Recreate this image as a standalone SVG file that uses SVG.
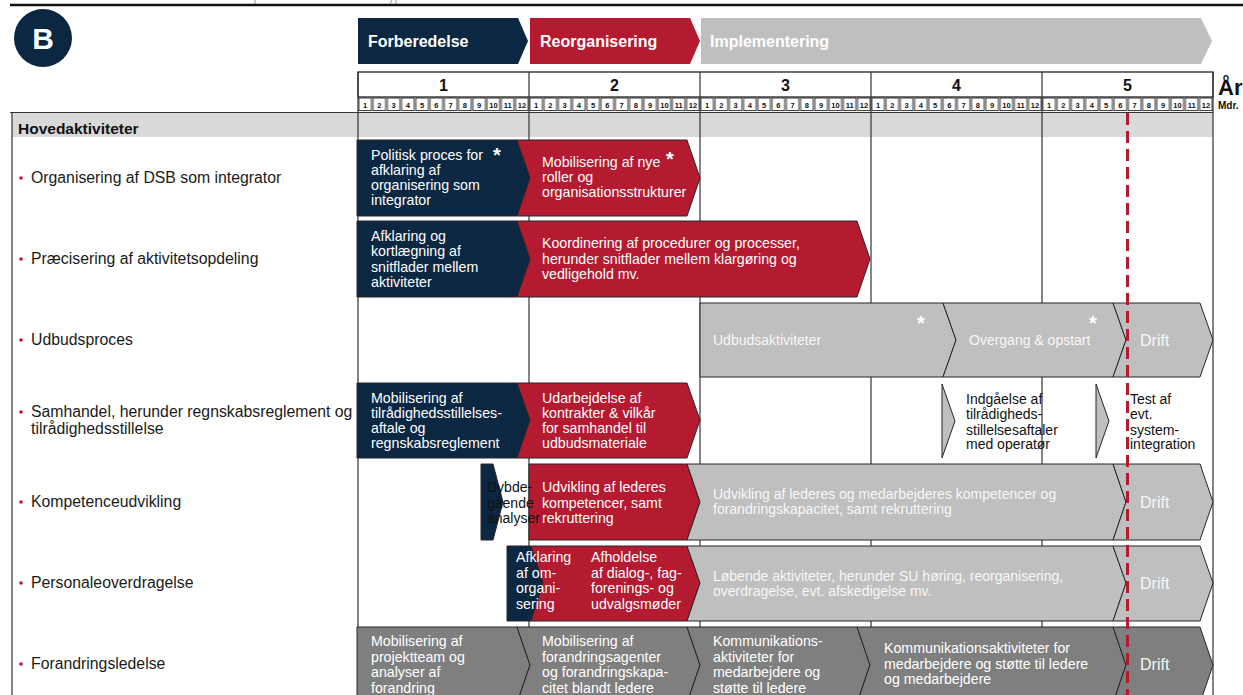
<svg xmlns="http://www.w3.org/2000/svg" xmlns:xlink="http://www.w3.org/1999/xlink" width="1243" height="695" viewBox="0 0 1243 695">
  <style>
    text { font-family: "Liberation Sans", Arial, sans-serif; }
    .hdr { font-size: 16px; font-weight: bold; fill: #ffffff; }
    .yr { font-size: 16px; font-weight: bold; fill: #111; text-anchor: middle; }
    .mo { font-size: 7.5px; font-weight: bold; fill: #111; text-anchor: middle; }
    .lbl { font-size: 15.8px; fill: #1a1a1a; }
    .bt { font-size: 14.2px; fill: #ffffff; }
    .gt { font-size: 14px; fill: #f7f7f7; }
    .kt { font-size: 14px; fill: #111111; }
    .drift { font-size: 16px; fill: #f7f7f7; }
    .star { font-size: 20px; font-weight: bold; fill: #ffffff; }
    .navy { fill: #0c2742; stroke: #262626; stroke-width: 1; }
    .red { fill: #b41a30; stroke: #262626; stroke-width: 1; }
    .lg { fill: #bfbfbf; stroke: #262626; stroke-width: 1; }
    .dg { fill: #7f7f7f; stroke: #262626; stroke-width: 1; }
    .grid { stroke: #333333; stroke-width: 1.2; fill: none; }
    .bullet { fill: #c8102e; }
  </style>
  <defs>
    <pattern id="mcell" patternUnits="userSpaceOnUse" x="358" y="97" width="14.25" height="15">
      <rect x="0.9" y="1" width="12.45" height="12.6" fill="#ffffff" stroke="#222222" stroke-width="0.9"/>
    </pattern>
    <g id="months">
      <text class="mo" x="365.1" y="108">1</text>
      <text class="mo" x="379.4" y="108">2</text>
      <text class="mo" x="393.6" y="108">3</text>
      <text class="mo" x="407.9" y="108">4</text>
      <text class="mo" x="422.1" y="108">5</text>
      <text class="mo" x="436.4" y="108">6</text>
      <text class="mo" x="450.6" y="108">7</text>
      <text class="mo" x="464.9" y="108">8</text>
      <text class="mo" x="479.1" y="108">9</text>
      <text class="mo" x="493.4" y="108">10</text>
      <text class="mo" x="507.6" y="108">11</text>
      <text class="mo" x="521.9" y="108">12</text>
    </g>
  </defs>

  <rect width="1243" height="695" fill="#ffffff"/>

  <!-- page rule and clipped marks above it -->
  <line x1="10" y1="5" x2="1243" y2="5" stroke="#111" stroke-width="2.5"/>
  <line x1="255" y1="0" x2="255" y2="4" stroke="#777" stroke-width="0.8"/>
  <line x1="396" y1="0" x2="396" y2="4" stroke="#777" stroke-width="0.8"/>
  <line x1="390" y1="4" x2="392" y2="0" stroke="#777" stroke-width="0.8"/>

  <!-- section badge -->
  <g id="badge">
    <circle cx="43" cy="38" r="29" fill="#0c2742"/>
    <text x="43" y="49" text-anchor="middle" font-size="30" font-weight="bold" fill="#ffffff">B</text>
  </g>

  <!-- phase arrows -->
  <g id="phase-forberedelse">
    <polygon points="358,18 518,18 528,41 518,64 358,64" fill="#0c2742"/>
    <text class="hdr" x="368" y="47">Forberedelse</text>
  </g>
  <g id="phase-reorganisering">
    <polygon points="530,18 690,18 700,41 690,64 530,64" fill="#b41a30"/>
    <text class="hdr" x="540" y="47">Reorganisering</text>
  </g>
  <g id="phase-implementering">
    <polygon points="701,18 1201,18 1212,41 1201,64 701,64" fill="#bfbfbf"/>
    <text class="hdr" x="710" y="47" fill="#ececec">Implementering</text>
  </g>

  <!-- time scale -->
  <g id="timescale">
    <rect x="358" y="72" width="855" height="25" fill="#ffffff" stroke="#222" stroke-width="1.3"/>
    <rect x="358" y="97" width="855" height="15" fill="url(#mcell)"/>
    <text class="yr" x="443.5" y="91">1</text>
    <text class="yr" x="614.5" y="91">2</text>
    <text class="yr" x="785.5" y="91">3</text>
    <text class="yr" x="956.5" y="91">4</text>
    <text class="yr" x="1127.5" y="91">5</text>
    <use xlink:href="#months"/>
    <use xlink:href="#months" x="171"/>
    <use xlink:href="#months" x="342"/>
    <use xlink:href="#months" x="513"/>
    <use xlink:href="#months" x="684"/>
    <text x="1218" y="95" font-size="22" font-weight="bold" fill="#111">År</text>
    <text x="1218" y="109" font-size="10" font-weight="bold" fill="#111">Mdr.</text>
  </g>

  <!-- table frame, heading band and year grid -->
  <g id="grid">
    <rect x="12" y="113" width="1201" height="24" fill="#d9d9d9"/>
    <line class="grid" x1="10" y1="112.5" x2="1213" y2="112.5"/>
    <line class="grid" x1="12" y1="112" x2="12" y2="695"/>
    <line class="grid" x1="358" y1="72" x2="358" y2="695"/>
    <line class="grid" x1="529" y1="72" x2="529" y2="695"/>
    <line class="grid" x1="700" y1="72" x2="700" y2="695"/>
    <line class="grid" x1="871" y1="72" x2="871" y2="695"/>
    <line class="grid" x1="1042" y1="72" x2="1042" y2="695"/>
    <line class="grid" x1="1213" y1="72" x2="1213" y2="695"/>
    <text x="18" y="134" font-size="15.5" font-weight="bold" fill="#111">Hovedaktiviteter</text>
  </g>

  <!-- row labels -->
  <g id="labels">
    <circle class="bullet" cx="21" cy="178" r="1.8"/>
    <text class="lbl" x="31" y="183">Organisering af DSB som integrator</text>
    <circle class="bullet" cx="21" cy="259" r="1.8"/>
    <text class="lbl" x="31" y="264">Præcisering af aktivitetsopdeling</text>
    <circle class="bullet" cx="21" cy="340" r="1.8"/>
    <text class="lbl" x="31" y="345">Udbudsproces</text>
    <circle class="bullet" cx="21" cy="412" r="1.8"/>
    <text class="lbl" x="31" y="417">Samhandel, herunder regnskabsreglement og</text>
    <text class="lbl" x="31" y="434">tilrådighedsstillelse</text>
    <circle class="bullet" cx="21" cy="502" r="1.8"/>
    <text class="lbl" x="31" y="507">Kompetenceudvikling</text>
    <circle class="bullet" cx="21" cy="583" r="1.8"/>
    <text class="lbl" x="31" y="588">Personaleoverdragelse</text>
    <circle class="bullet" cx="21" cy="664" r="1.8"/>
    <text class="lbl" x="31" y="669">Forandringsledelse</text>
  </g>

  <!-- row 1: organisering -->
  <g id="r1-politisk">
    <polygon class="navy" points="357,140 517,140 530,178 517,216 357,216"/>
    <text class="bt" x="371" y="160">Politisk proces for</text>
    <text class="bt" x="371" y="175">afklaring af</text>
    <text class="bt" x="371" y="190">organisering som</text>
    <text class="bt" x="371" y="205">integrator</text>
    <text class="star" x="497" y="162" text-anchor="middle">*</text>
  </g>
  <g id="r1-mobilisering">
    <polygon class="red" points="517,140 687,140 700,178 687,216 517,216 530,178"/>
    <text class="bt" x="542" y="167">Mobilisering af nye</text>
    <text class="bt" x="542" y="182">roller og</text>
    <text class="bt" x="542" y="197">organisationsstrukturer</text>
    <text class="star" x="670" y="166" text-anchor="middle">*</text>
  </g>

  <!-- row 2: aktivitetsopdeling -->
  <g id="r2-afklaring">
    <polygon class="navy" points="357,221 517,221 530,259 517,297 357,297"/>
    <text class="bt" x="371" y="241">Afklaring og</text>
    <text class="bt" x="371" y="256">kortlægning af</text>
    <text class="bt" x="371" y="272">snitflader mellem</text>
    <text class="bt" x="371" y="287">aktiviteter</text>
  </g>
  <g id="r2-koordinering">
    <polygon class="red" points="517,221 857,221 870,259 857,297 517,297 530,259"/>
    <text class="bt" x="542" y="248">Koordinering af procedurer og processer,</text>
    <text class="bt" x="542" y="264">herunder snitflader mellem klargøring og</text>
    <text class="bt" x="542" y="279">vedligehold mv.</text>
  </g>

  <!-- row 3: udbudsproces -->
  <g id="r3-udbud">
    <polygon class="lg" points="700,303 943,303 956,340 943,377 700,377"/>
    <text class="gt" x="713" y="345">Udbudsaktiviteter</text>
    <text class="star" x="921" y="330" text-anchor="middle">*</text>
  </g>
  <g id="r3-overgang">
    <polygon class="lg" points="943,303 1113,303 1126,340 1113,377 943,377 956,340"/>
    <text class="gt" x="969" y="345">Overgang &amp; opstart</text>
    <text class="star" x="1093" y="330" text-anchor="middle">*</text>
  </g>
  <g id="r3-drift">
    <polygon class="lg" points="1113,303 1200,303 1213,340 1200,377 1113,377 1126,340"/>
    <text class="drift" x="1140" y="346">Drift</text>
  </g>

  <!-- row 4: samhandel -->
  <g id="r4-mobilisering">
    <polygon class="navy" points="357,383 517,383 530,420 517,458 357,458"/>
    <text class="bt" x="371" y="403">Mobilisering af</text>
    <text class="bt" x="371" y="418">tilrådighedsstillelses-</text>
    <text class="bt" x="371" y="433">aftale og</text>
    <text class="bt" x="371" y="448">regnskabsreglement</text>
  </g>
  <g id="r4-udarbejdelse">
    <polygon class="red" points="517,383 687,383 700,420 687,458 517,458 530,420"/>
    <text class="bt" x="542" y="403">Udarbejdelse af</text>
    <text class="bt" x="542" y="418">kontrakter &amp; vilkår</text>
    <text class="bt" x="542" y="433">for samhandel til</text>
    <text class="bt" x="542" y="448">udbudsmateriale</text>
  </g>
  <g id="r4-indgaaelse">
    <polygon class="lg" points="942,384 955,421 942,458"/>
    <text class="kt" x="966" y="404">Indgåelse af</text>
    <text class="kt" x="966" y="419">tilrådigheds-</text>
    <text class="kt" x="966" y="435">stillelsesaftaler</text>
    <text class="kt" x="966" y="449">med operatør</text>
  </g>
  <g id="r4-test">
    <polygon class="lg" points="1096,384 1109,421 1096,458"/>
    <text class="kt" x="1130" y="404">Test af</text>
    <text class="kt" x="1130" y="419">evt.</text>
    <text class="kt" x="1130" y="435">system-</text>
    <text class="kt" x="1130" y="449">integration</text>
  </g>

  <!-- row 5: kompetenceudvikling -->
  <g id="r5-dybde">
    <polygon class="navy" points="481,464 493,464 503,502 493,540 481,540"/>
  </g>
  <g id="r5-ledere">
    <polygon class="red" points="529,464 687,464 700,502 687,540 529,540"/>
    <text class="bt" x="542" y="492">Udvikling af lederes</text>
    <text class="bt" x="542" y="508">kompetencer, samt</text>
    <text class="bt" x="542" y="523">rekruttering</text>
  </g>
  <g id="r5-dybde-text">
    <text class="kt" x="487" y="492">Dybde-</text>
    <text class="kt" x="487" y="508">gående</text>
    <text class="kt" x="487" y="523">analyser</text>
  </g>
  <g id="r5-medarbejdere">
    <polygon class="lg" points="687,464 1113,464 1126,502 1113,540 687,540 700,502"/>
    <text class="gt" x="713" y="499">Udvikling af lederes og medarbejderes kompetencer og</text>
    <text class="gt" x="713" y="514">forandringskapacitet, samt rekruttering</text>
  </g>
  <g id="r5-drift">
    <polygon class="lg" points="1113,464 1200,464 1213,502 1200,540 1113,540 1126,502"/>
    <text class="drift" x="1140" y="508">Drift</text>
  </g>

  <!-- row 6: personaleoverdragelse -->
  <g id="r6-afklaring">
    <polygon class="navy" points="507,546 531,546 543,583 531,621 507,621"/>
  </g>
  <g id="r6-afholdelse">
    <polygon class="red" points="531,546 687,546 700,583 687,621 531,621 543,583"/>
    <text class="bt" x="591" y="562">Afholdelse</text>
    <text class="bt" x="591" y="578">af dialog-, fag-</text>
    <text class="bt" x="591" y="593">forenings- og</text>
    <text class="bt" x="591" y="609">udvalgsmøder</text>
  </g>
  <g id="r6-afklaring-text">
    <text class="bt" x="516" y="562">Afklaring</text>
    <text class="bt" x="516" y="578">af om-</text>
    <text class="bt" x="516" y="593">organi-</text>
    <text class="bt" x="516" y="609">sering</text>
  </g>
  <g id="r6-loebende">
    <polygon class="lg" points="687,546 1113,546 1126,583 1113,621 687,621 700,583"/>
    <text class="gt" x="713" y="581">Løbende aktiviteter, herunder SU høring, reorganisering,</text>
    <text class="gt" x="713" y="596">overdragelse, evt. afskedigelse mv.</text>
  </g>
  <g id="r6-drift">
    <polygon class="lg" points="1113,546 1200,546 1213,583 1200,621 1113,621 1126,583"/>
    <text class="drift" x="1140" y="589">Drift</text>
  </g>

  <!-- row 7: forandringsledelse -->
  <g id="r7-projektteam">
    <polygon class="dg" points="357,627 517,627 530,665 517,703 357,703"/>
    <text class="bt" x="371" y="646">Mobilisering af</text>
    <text class="bt" x="371" y="662">projektteam og</text>
    <text class="bt" x="371" y="677">analyser af</text>
    <text class="bt" x="371" y="693">forandring</text>
  </g>
  <g id="r7-agenter">
    <polygon class="dg" points="517,627 687,627 700,665 687,703 517,703 530,665"/>
    <text class="bt" x="542" y="646">Mobilisering af</text>
    <text class="bt" x="542" y="662">forandringsagenter</text>
    <text class="bt" x="542" y="677">og forandringskapa-</text>
    <text class="bt" x="542" y="693">citet blandt ledere</text>
  </g>
  <g id="r7-kommunikation">
    <polygon class="dg" points="687,627 857,627 870,665 857,703 687,703 700,665"/>
    <text class="bt" x="713" y="646">Kommunikations-</text>
    <text class="bt" x="713" y="662">aktiviteter for</text>
    <text class="bt" x="713" y="677">medarbejdere og</text>
    <text class="bt" x="713" y="693">støtte til ledere</text>
  </g>
  <g id="r7-kommunikationsaktiviteter">
    <polygon class="dg" points="857,627 1113,627 1126,665 1113,703 857,703 870,665"/>
    <text class="bt" x="884" y="653">Kommunikationsaktiviteter for</text>
    <text class="bt" x="884" y="669">medarbejdere og støtte til ledere</text>
    <text class="bt" x="884" y="684">og medarbejdere</text>
  </g>
  <g id="r7-drift">
    <polygon class="dg" points="1113,627 1200,627 1213,665 1200,703 1113,703 1126,665"/>
    <text class="drift" x="1140" y="670">Drift</text>
  </g>

  <!-- today marker -->
  <g id="today">
    <line x1="1127.5" y1="113" x2="1127.5" y2="695" stroke="#b41a30" stroke-width="3" stroke-dasharray="12 6"/>
  </g>
</svg>
